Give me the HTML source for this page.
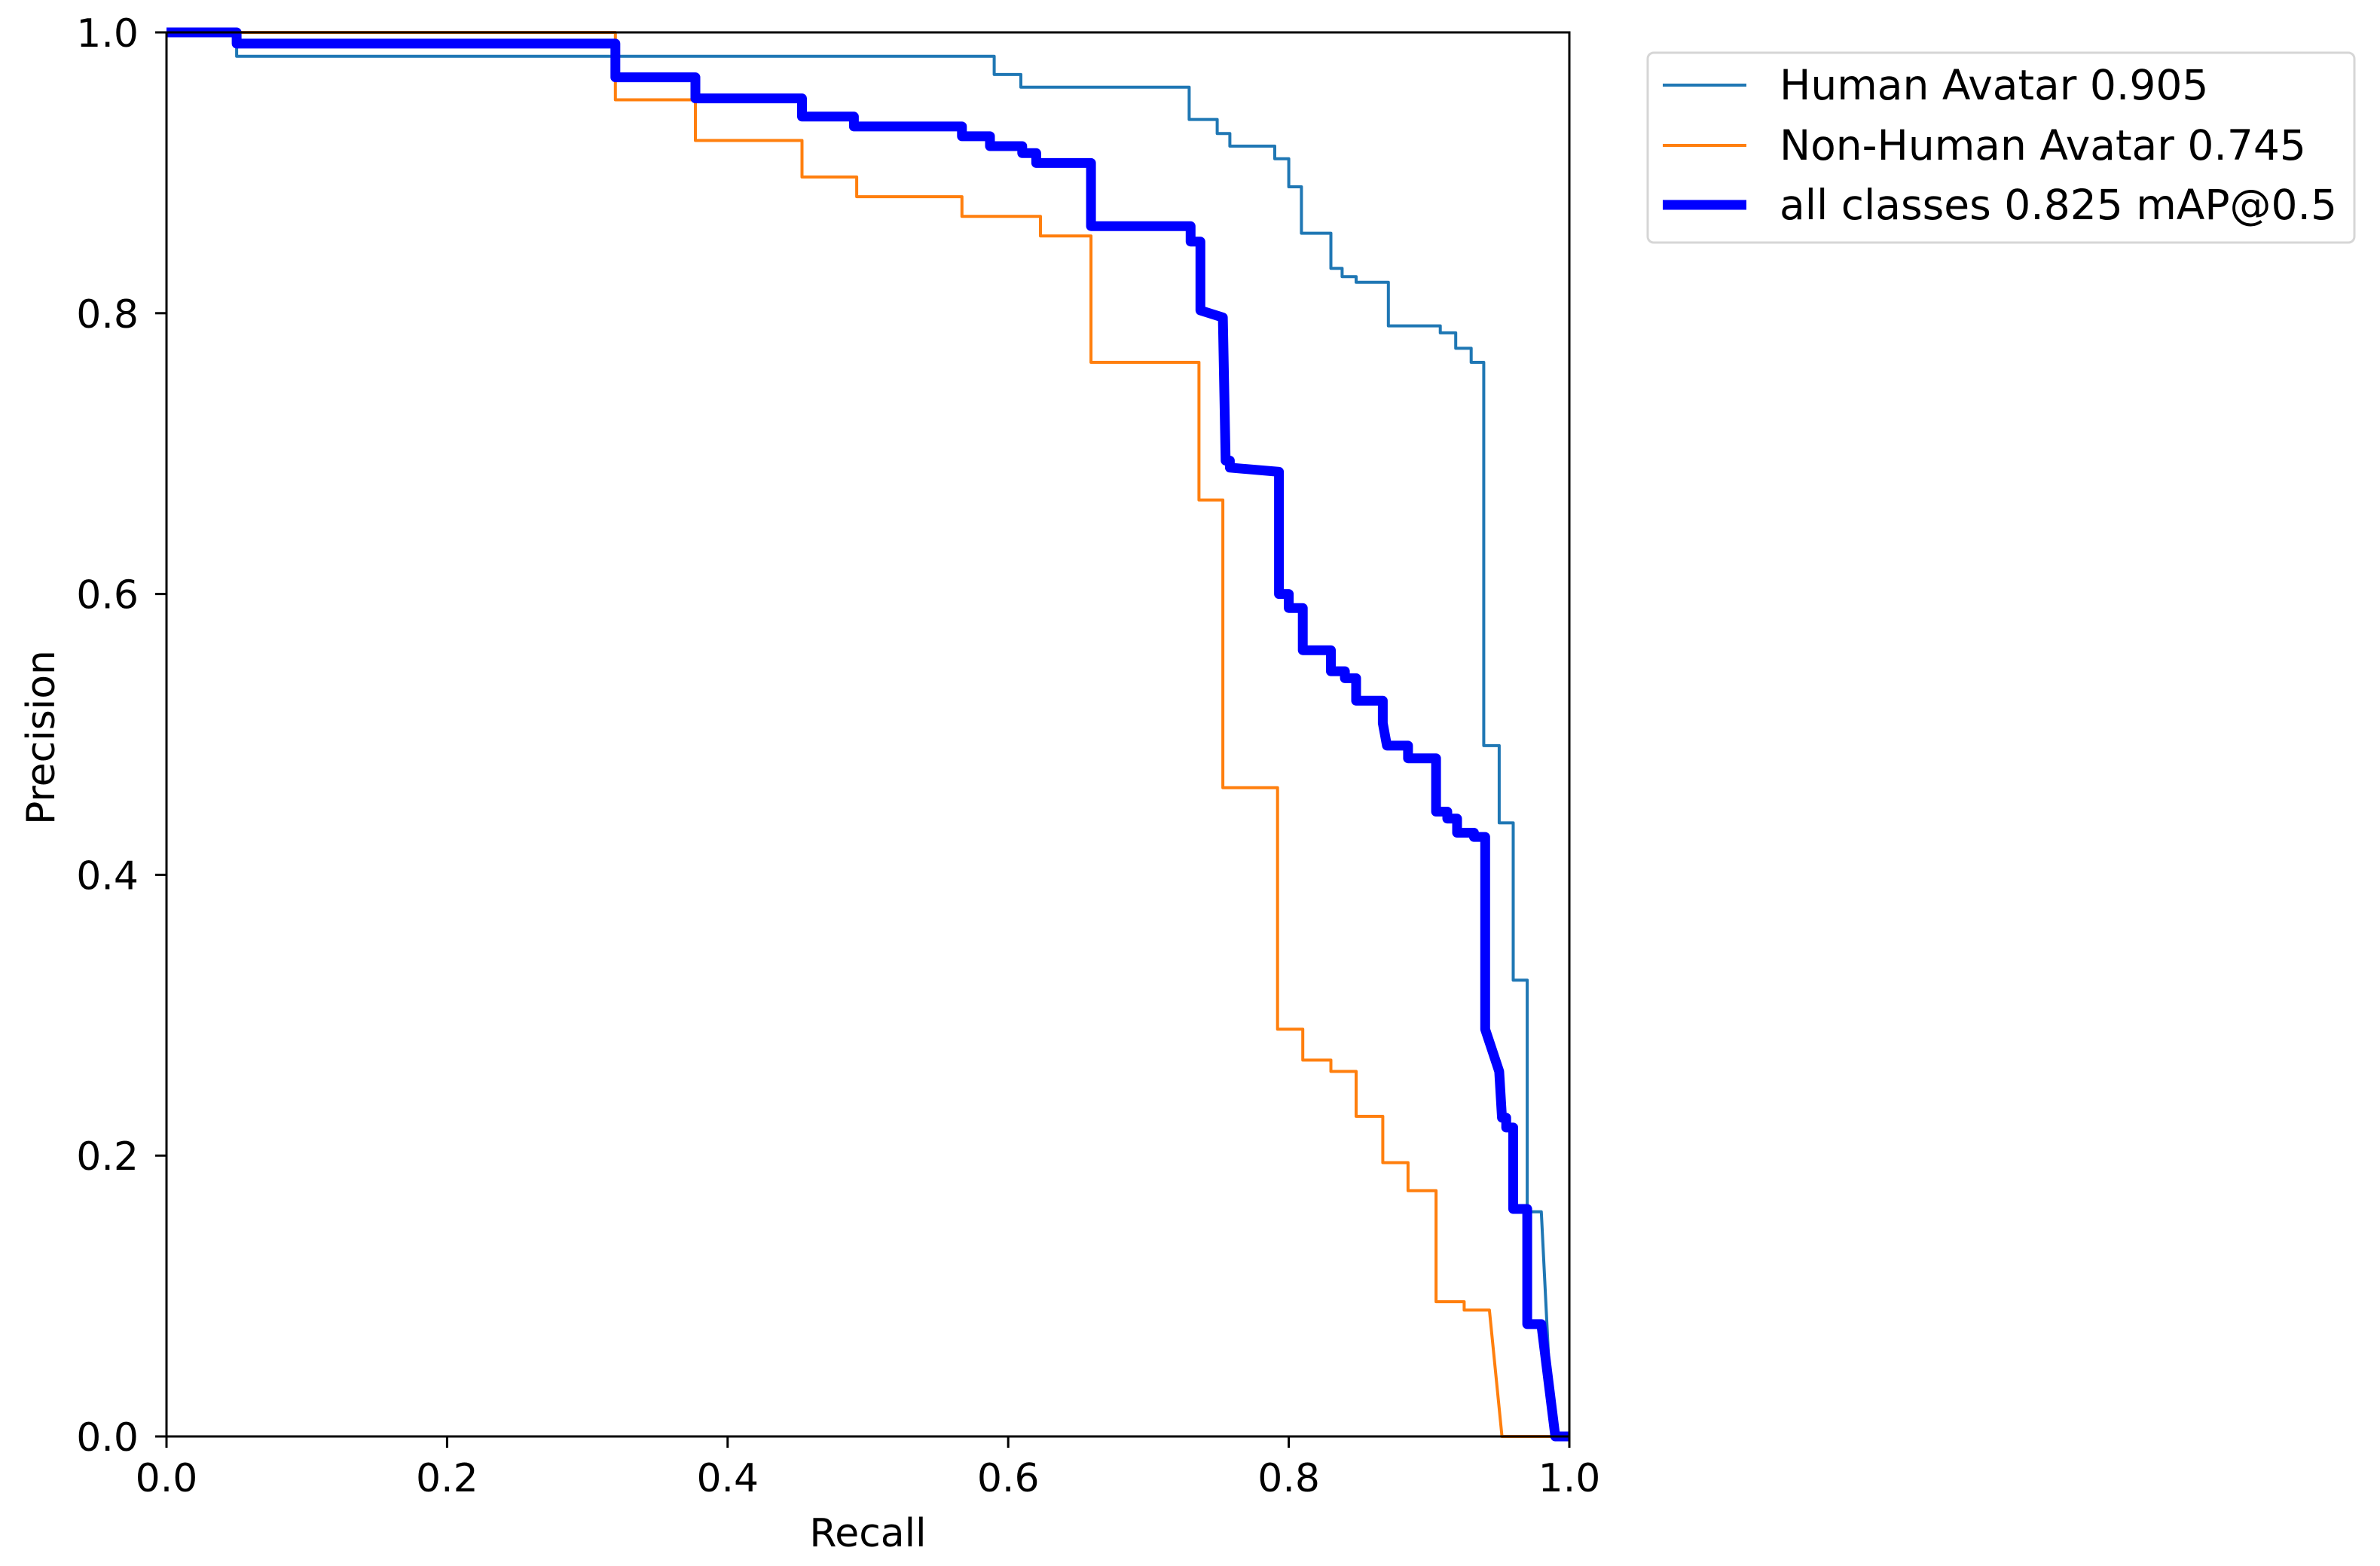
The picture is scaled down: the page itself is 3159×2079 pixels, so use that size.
<!DOCTYPE html>
<html><head><meta charset="utf-8"><style>
html,body{margin:0;padding:0;background:#fff;}
svg{display:block;font-family:"DejaVu Sans","Liberation Sans",sans-serif;}
</style></head><body>
<svg id="chart" width="3159" height="2079" viewBox="0 0 3159 2079" xmlns="http://www.w3.org/2000/svg">
<rect width="3159" height="2079" fill="#fff"/>
<g id="plot"></g>
<g id="axes"></g>
<g id="legend">
  <rect x="2187" y="70" width="938" height="252" rx="8" fill="#fff" stroke="#d6d6d6" stroke-width="3"/>
  <line x1="2207" y1="113" x2="2318" y2="113" stroke="#1f77b4" stroke-width="4"/>
  <text x="2362" y="132" font-size="55">Human Avatar 0.905</text>
  <line x1="2207" y1="193" x2="2318" y2="193" stroke="#ff7f0e" stroke-width="4"/>
  <text x="2362" y="212" font-size="55">Non-Human Avatar 0.745</text>
  <line x1="2207" y1="272" x2="2318" y2="272" stroke="#0000ff" stroke-width="13"/>
  <text x="2362" y="291" font-size="55">all classes 0.825 mAP@0.5</text>
</g>
</svg>
<script>
const xTicks = [0, 0.2, 0.4, 0.6, 0.8, 1.0];
const yTicks = [0, 0.2, 0.4, 0.6, 0.8, 1.0];
const tickLabels = ["0.0","0.2","0.4","0.6","0.8","1.0"];

const humanRecall = [0,0.05,0.05,0.59,0.59,0.609,0.609,0.729,0.729,0.749,0.749,0.758,0.758,0.79,0.79,0.80,0.80,0.809,0.809,0.83,0.83,0.838,0.838,0.848,0.848,0.871,0.871,0.908,0.908,0.919,0.919,0.93,0.93,0.939,0.939,0.95,0.95,0.96,0.96,0.97,0.97,0.98,0.988,1.0];
const humanPrecision = [1,1,0.983,0.983,0.970,0.970,0.961,0.961,0.938,0.938,0.928,0.928,0.919,0.919,0.910,0.910,0.890,0.890,0.857,0.857,0.832,0.832,0.826,0.826,0.822,0.822,0.791,0.791,0.786,0.786,0.775,0.775,0.765,0.765,0.492,0.492,0.437,0.437,0.325,0.325,0.160,0.160,0,0];

const nonHumanRecall = [0,0.32,0.32,0.377,0.377,0.453,0.453,0.492,0.492,0.567,0.567,0.623,0.623,0.659,0.659,0.736,0.736,0.753,0.753,0.792,0.792,0.81,0.81,0.83,0.83,0.848,0.848,0.867,0.867,0.885,0.885,0.905,0.905,0.925,0.925,0.943,0.952,1.0];
const nonHumanPrecision = [1,1,0.952,0.952,0.923,0.923,0.897,0.897,0.883,0.883,0.869,0.869,0.855,0.855,0.765,0.765,0.667,0.667,0.462,0.462,0.290,0.290,0.268,0.268,0.260,0.260,0.228,0.228,0.195,0.195,0.175,0.175,0.096,0.096,0.090,0.090,0,0];

const allRecall = [0,0.05,0.05,0.32,0.32,0.377,0.377,0.453,0.453,0.49,0.49,0.567,0.567,0.587,0.587,0.61,0.61,0.62,0.62,0.659,0.659,0.73,0.73,0.737,0.737,0.753,0.755,0.758,0.758,0.793,0.793,0.80,0.80,0.81,0.81,0.83,0.83,0.84,0.84,0.848,0.848,0.867,0.867,0.87,0.87,0.885,0.885,0.905,0.905,0.913,0.913,0.92,0.92,0.932,0.932,0.94,0.94,0.95,0.952,0.955,0.955,0.96,0.96,0.97,0.97,0.98,0.99,1.0];
const allPrecision = [1,1,0.992,0.992,0.968,0.968,0.953,0.953,0.940,0.940,0.933,0.933,0.926,0.926,0.919,0.919,0.914,0.914,0.907,0.907,0.862,0.862,0.851,0.851,0.802,0.797,0.695,0.695,0.690,0.687,0.600,0.600,0.590,0.590,0.560,0.560,0.545,0.545,0.540,0.540,0.524,0.524,0.508,0.492,0.492,0.492,0.483,0.483,0.445,0.445,0.440,0.440,0.430,0.430,0.427,0.427,0.290,0.260,0.227,0.227,0.220,0.220,0.162,0.162,0.080,0.080,0,0];

const X0=221, X1=2083, Y0=1907, Y1=43;
function sx(v){return X0+(X1-X0)*v;}
function sy(v){return Y0-(Y0-Y1)*v;}
const NS="http://www.w3.org/2000/svg";
const plot=document.getElementById('plot');
const axes=document.getElementById('axes');

function series(rx,py,color,w,name){
  const p=document.createElementNS(NS,'polyline');
  p.setAttribute('points',rx.map((r,i)=>sx(r).toFixed(1)+','+sy(py[i]).toFixed(1)).join(' '));
  p.setAttribute('fill','none');p.setAttribute('stroke',color);p.setAttribute('stroke-width',w);
  p.setAttribute('stroke-linejoin','round');p.setAttribute('stroke-linecap','butt');
  
  
  plot.appendChild(p);
}
series(humanRecall,humanPrecision,'#1f77b4',4,'human-avatar-line');
series(nonHumanRecall,nonHumanPrecision,'#ff7f0e',4,'non-human-avatar-line');
series(allRecall,allPrecision,'#0000ff',13,'all-classes-line');

const frame=document.createElementNS(NS,'rect');
frame.setAttribute('x',X0);frame.setAttribute('y',Y1);frame.setAttribute('width',X1-X0);frame.setAttribute('height',Y0-Y1);
frame.setAttribute('fill','none');frame.setAttribute('stroke','#000');frame.setAttribute('stroke-width','3');


axes.appendChild(frame);

xTicks.forEach((t,i)=>{
  const l=document.createElementNS(NS,'line');
  l.setAttribute('x1',sx(t));l.setAttribute('x2',sx(t));l.setAttribute('y1',Y0);l.setAttribute('y2',Y0+15);
  l.setAttribute('stroke','#000');l.setAttribute('stroke-width','3');
  
  
  axes.appendChild(l);
  const tx=document.createElementNS(NS,'text');
  tx.setAttribute('x',sx(t));tx.setAttribute('y',1980);tx.setAttribute('font-size','52');tx.setAttribute('text-anchor','middle');
  tx.textContent=tickLabels[i];
  
  
  axes.appendChild(tx);
});
yTicks.forEach((t,i)=>{
  const l=document.createElementNS(NS,'line');
  l.setAttribute('x1',X0-15);l.setAttribute('x2',X0);l.setAttribute('y1',sy(t));l.setAttribute('y2',sy(t));
  l.setAttribute('stroke','#000');l.setAttribute('stroke-width','3');
  
  
  axes.appendChild(l);
  const tx=document.createElementNS(NS,'text');
  tx.setAttribute('x',184);tx.setAttribute('y',sy(t)+19);tx.setAttribute('font-size','52');tx.setAttribute('text-anchor','end');
  tx.textContent=tickLabels[i];
  
  
  axes.appendChild(tx);
});
const xl=document.createElementNS(NS,'text');
xl.setAttribute('x',(X0+X1)/2);xl.setAttribute('y',2053);xl.setAttribute('font-size','52');xl.setAttribute('text-anchor','middle');
xl.textContent='Recall';


axes.appendChild(xl);
const yl=document.createElementNS(NS,'text');
yl.setAttribute('x',0);yl.setAttribute('y',0);yl.setAttribute('font-size','52');yl.setAttribute('text-anchor','middle');
yl.setAttribute('transform','translate(72,979) rotate(-90)');
yl.textContent='Precision';


axes.appendChild(yl);
</script>
</body></html>
